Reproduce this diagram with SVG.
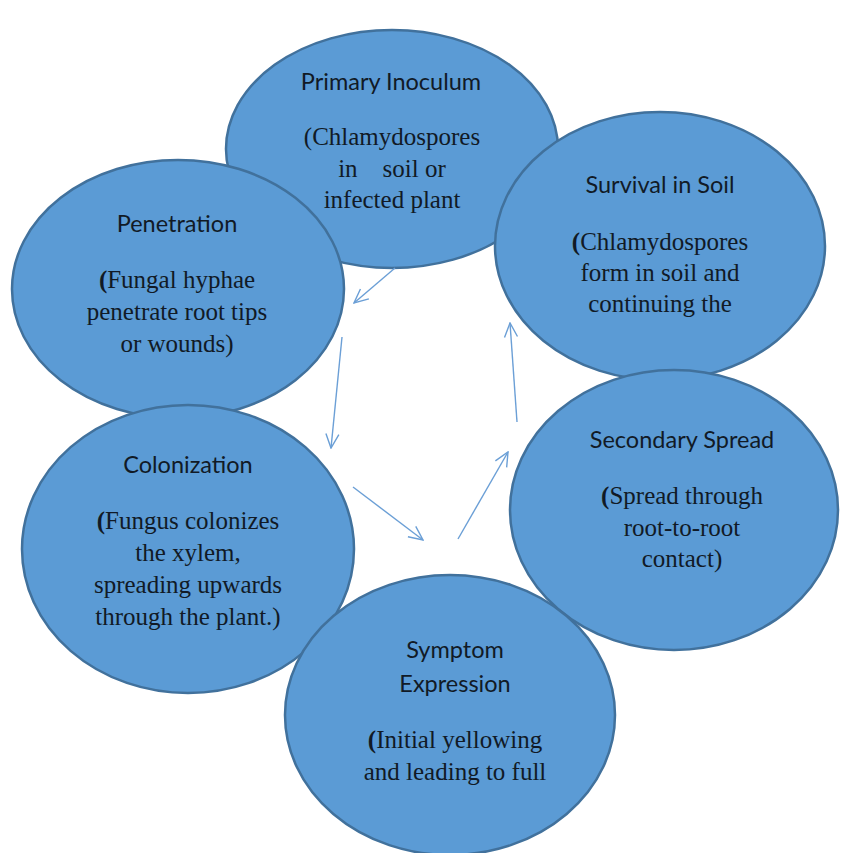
<svg xmlns="http://www.w3.org/2000/svg" width="843" height="853" viewBox="0 0 843 853">
<style>
.n{fill:#5B9BD5;stroke:#41719C;stroke-width:2.5}
.t{font-family:Lato,"Liberation Sans",sans-serif;font-size:23.5px;fill:#111a26;text-anchor:middle}
.b{font-family:"Liberation Serif","Times New Roman",serif;font-size:25px;fill:#111a26;text-anchor:middle}
.k{font-weight:bold}
.c{fill:none;stroke:#6B9FD6;stroke-width:1.4}
</style>
<defs>
<marker id="ah" viewBox="0 0 16 16" refX="15" refY="8" markerWidth="16" markerHeight="16" markerUnits="userSpaceOnUse" orient="auto">
<path d="M1,1.5 L15,8 L1,14.5" fill="none" stroke="#6B9FD6" stroke-width="1.4"/>
</marker>
</defs>
<rect width="843" height="853" fill="#ffffff"/>
<g id="primary">
<ellipse class="n" cx="392" cy="149" rx="166" ry="119"/>
<text class="t" x="391" y="90">Primary Inoculum</text>
<text class="b" x="392" y="145">(Chlamydospores</text>
<text class="b" x="392" y="177" xml:space="preserve">in    soil or</text>
<text class="b" x="392" y="208">infected plant</text>
</g>
<g id="penetration">
<ellipse class="n" cx="178" cy="289" rx="166" ry="129"/>
<text class="t" x="177" y="232">Penetration</text>
<text class="b" x="177" y="288"><tspan class="k">(</tspan>Fungal hyphae</text>
<text class="b" x="177" y="320">penetrate root tips</text>
<text class="b" x="177" y="352">or wounds)</text>
</g>
<g id="survival">
<ellipse class="n" cx="660" cy="246" rx="165" ry="134"/>
<text class="t" x="660" y="193">Survival in Soil</text>
<text class="b" x="660" y="250"><tspan class="k">(</tspan>Chlamydospores</text>
<text class="b" x="660" y="281">form in soil and</text>
<text class="b" x="660" y="312">continuing the</text>
</g>
<g id="colonization">
<ellipse class="n" cx="188" cy="549" rx="166" ry="144"/>
<text class="t" x="188" y="473">Colonization</text>
<text class="b" x="188" y="529"><tspan class="k">(</tspan>Fungus colonizes</text>
<text class="b" x="188" y="561">the xylem,</text>
<text class="b" x="188" y="593">spreading upwards</text>
<text class="b" x="188" y="625">through the plant.)</text>
</g>
<g id="secondary">
<ellipse class="n" cx="674" cy="510" rx="164" ry="140"/>
<text class="t" x="682" y="448">Secondary Spread</text>
<text class="b" x="682" y="504"><tspan class="k">(</tspan>Spread through</text>
<text class="b" x="682" y="536">root-to-root</text>
<text class="b" x="682" y="567">contact)</text>
</g>
<g id="symptom">
<ellipse class="n" cx="450" cy="715" rx="165" ry="140"/>
<text class="t" x="455" y="658">Symptom</text>
<text class="t" x="455" y="692">Expression</text>
<text class="b" x="455" y="748"><tspan class="k">(</tspan>Initial yellowing</text>
<text class="b" x="455" y="780">and leading to full</text>
</g>
<g id="connectors">
<line class="c" x1="395" y1="268" x2="354" y2="303" marker-end="url(#ah)"/>
<line class="c" x1="342" y1="337" x2="331" y2="448" marker-end="url(#ah)"/>
<line class="c" x1="353" y1="487" x2="423" y2="540" marker-end="url(#ah)"/>
<line class="c" x1="458" y1="539" x2="508" y2="452" marker-end="url(#ah)"/>
<line class="c" x1="517" y1="422" x2="510" y2="323" marker-end="url(#ah)"/>
</g>
</svg>
